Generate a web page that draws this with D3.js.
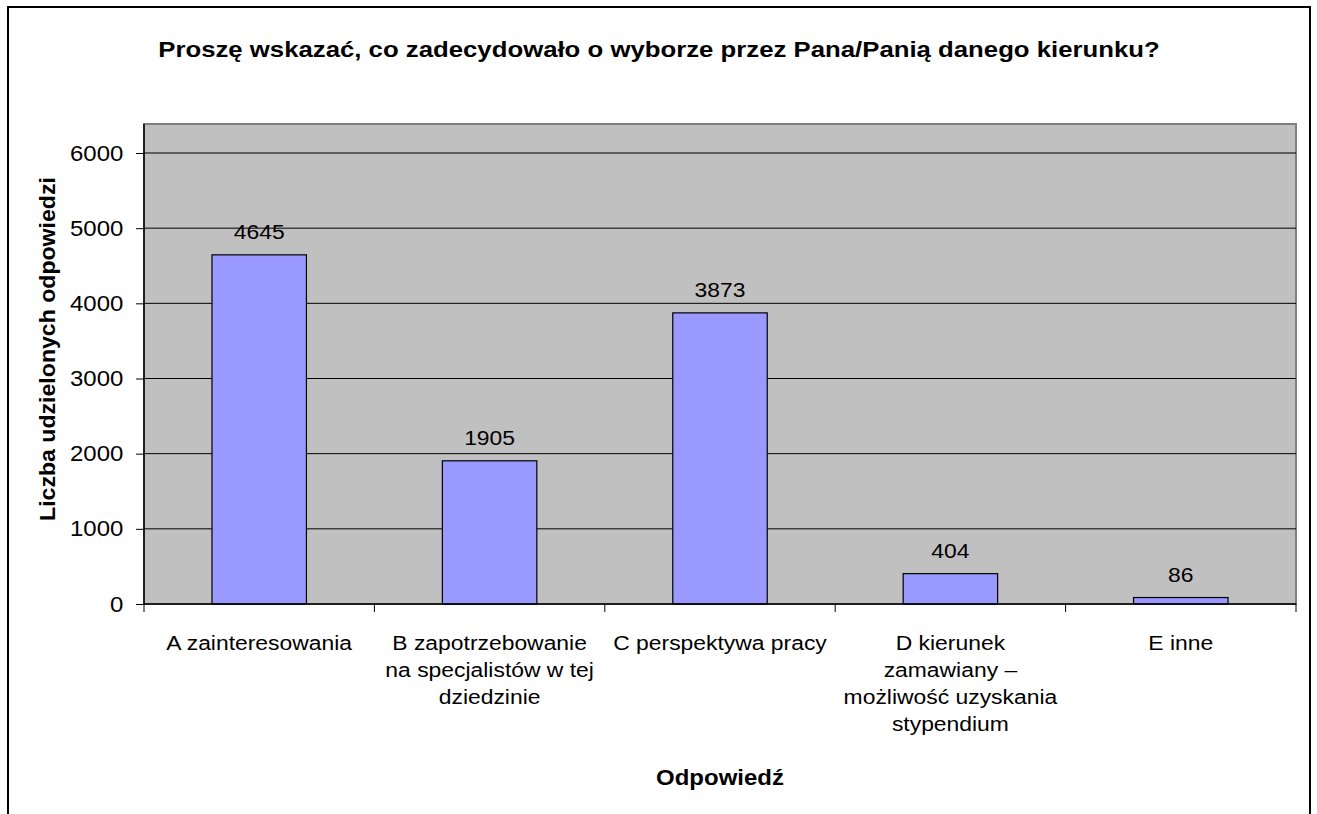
<!DOCTYPE html>
<html>
<head>
<meta charset="utf-8">
<script src="https://cdn.jsdelivr.net/npm/d3@7"></script>
<style>
  body { margin: 0; background: #fff; }
  svg { display: block; font-family: "Liberation Sans", Arial, sans-serif; }
</style>
</head>
<body>
<div id="chart"></div>
<script>
const categories = ["A", "B", "C", "D", "E"];
const categoryLines = [
  ["A zainteresowania"],
  ["B zapotrzebowanie", "na specjalistów w tej", "dziedzinie"],
  ["C perspektywa pracy"],
  ["D kierunek", "zamawiany –", "możliwość uzyskania", "stypendium"],
  ["E inne"]
];
const values = [4645, 1905, 3873, 404, 86];
const yTicks = [0, 1000, 2000, 3000, 4000, 5000, 6000];

const W = 1317, H = 814;
const plot = { left: 144, right: 1296, top: 124, bottom: 604 };
const STRETCH = 1.09; // the source picture's text is a bit wider than plain Arial

const svg = d3.select("#chart").append("svg")
  .attr("width", W)
  .attr("height", H);

// outer frame
svg.append("rect")
  .attr("x", 8).attr("y", 7)
  .attr("width", 1302).attr("height", 900)
  .attr("fill", "#fff")
  .attr("stroke", "#000")
  .attr("stroke-width", 2);

const x = d3.scaleBand()
  .domain(categories)
  .range([plot.left, plot.right])
  .padding(0);

const y = d3.scaleLinear()
  .domain([0, 6000])
  .range([plot.bottom, 153]);

// plot area
svg.append("rect")
  .attr("x", plot.left).attr("y", plot.top)
  .attr("width", plot.right - plot.left)
  .attr("height", plot.bottom - plot.top)
  .attr("fill", "#c0c0c0")
  .attr("stroke", "#808080")
  .attr("stroke-width", 2);

// gridlines
svg.append("g")
  .selectAll("line")
  .data(yTicks.filter(d => d > 0))
  .enter()
  .append("line")
  .attr("x1", plot.left).attr("x2", plot.right)
  .attr("y1", d => y(d)).attr("y2", d => y(d))
  .attr("stroke", "#000")
  .attr("stroke-width", 1);

// bars
const barW = x.bandwidth() * 0.41;
svg.append("g")
  .selectAll("rect")
  .data(values)
  .enter()
  .append("rect")
  .attr("x", (d, i) => x(categories[i]) + (x.bandwidth() - barW) / 2)
  .attr("y", d => y(d))
  .attr("width", barW)
  .attr("height", d => y(0) - y(d))
  .attr("fill", "#9999ff")
  .attr("stroke", "#000")
  .attr("stroke-width", 1.2);

// value labels
svg.append("g")
  .selectAll("text")
  .data(values)
  .enter()
  .append("text")
  .attr("transform", (d, i) => `translate(${x(categories[i]) + x.bandwidth() / 2},${y(d) - 16}) scale(${STRETCH},1)`)
  .attr("text-anchor", "middle")
  .attr("font-size", 21)
  .text(d => d);

// y axis
const yAxis = svg.append("g")
  .attr("transform", `translate(${plot.left},0)`)
  .call(d3.axisLeft(y).tickValues(yTicks).tickSize(8).tickPadding(11).tickFormat(d3.format("d")));
yAxis.select(".domain").attr("d", `M0,${plot.top}V${plot.bottom}`).attr("stroke", "#000").attr("stroke-width", 1.5);
yAxis.selectAll(".tick line").attr("stroke", "#000");
yAxis.selectAll(".tick text")
  .attr("font-size", 22)
  .attr("font-family", "Liberation Sans, Arial, sans-serif")
  .attr("fill", "#000")
  .attr("transform", `scale(${STRETCH},1)`);

// x axis line and category dividers
svg.append("line")
  .attr("x1", plot.left).attr("x2", plot.right)
  .attr("y1", plot.bottom).attr("y2", plot.bottom)
  .attr("stroke", "#000").attr("stroke-width", 1.5);

const bounds = categories.map(c => x(c)).concat([plot.right]);
svg.append("g")
  .selectAll("line")
  .data(bounds)
  .enter()
  .append("line")
  .attr("x1", d => d).attr("x2", d => d)
  .attr("y1", plot.bottom).attr("y2", plot.bottom + 8)
  .attr("stroke", "#000");

// category labels
const catG = svg.append("g")
  .selectAll("text")
  .data(categoryLines)
  .enter()
  .append("text")
  .attr("transform", (d, i) => `translate(${x(categories[i]) + x.bandwidth() / 2},650) scale(${STRETCH},1)`)
  .attr("text-anchor", "middle")
  .attr("font-size", 21);
catG.each(function(lines) {
  const t = d3.select(this);
  lines.forEach((line, j) => {
    t.append("tspan")
      .attr("x", 0)
      .attr("y", j * 27)
      .text(line);
  });
});

// titles
svg.append("text")
  .attr("transform", `translate(659,57) scale(1.12,1)`)
  .attr("text-anchor", "middle")
  .attr("font-size", 23)
  .attr("font-weight", "bold")
  .text("Proszę wskazać, co zadecydowało o wyborze przez Pana/Panią danego kierunku?");

svg.append("text")
  .attr("transform", `translate(55,349) rotate(-90) scale(1.05,1)`)
  .attr("text-anchor", "middle")
  .attr("font-size", 22)
  .attr("font-weight", "bold")
  .text("Liczba udzielonych odpowiedzi");

svg.append("text")
  .attr("transform", `translate(${(plot.left + plot.right) / 2},785) scale(${STRETCH},1)`)
  .attr("text-anchor", "middle")
  .attr("font-size", 22)
  .attr("font-weight", "bold")
  .text("Odpowiedź");
</script>
</body>
</html>
